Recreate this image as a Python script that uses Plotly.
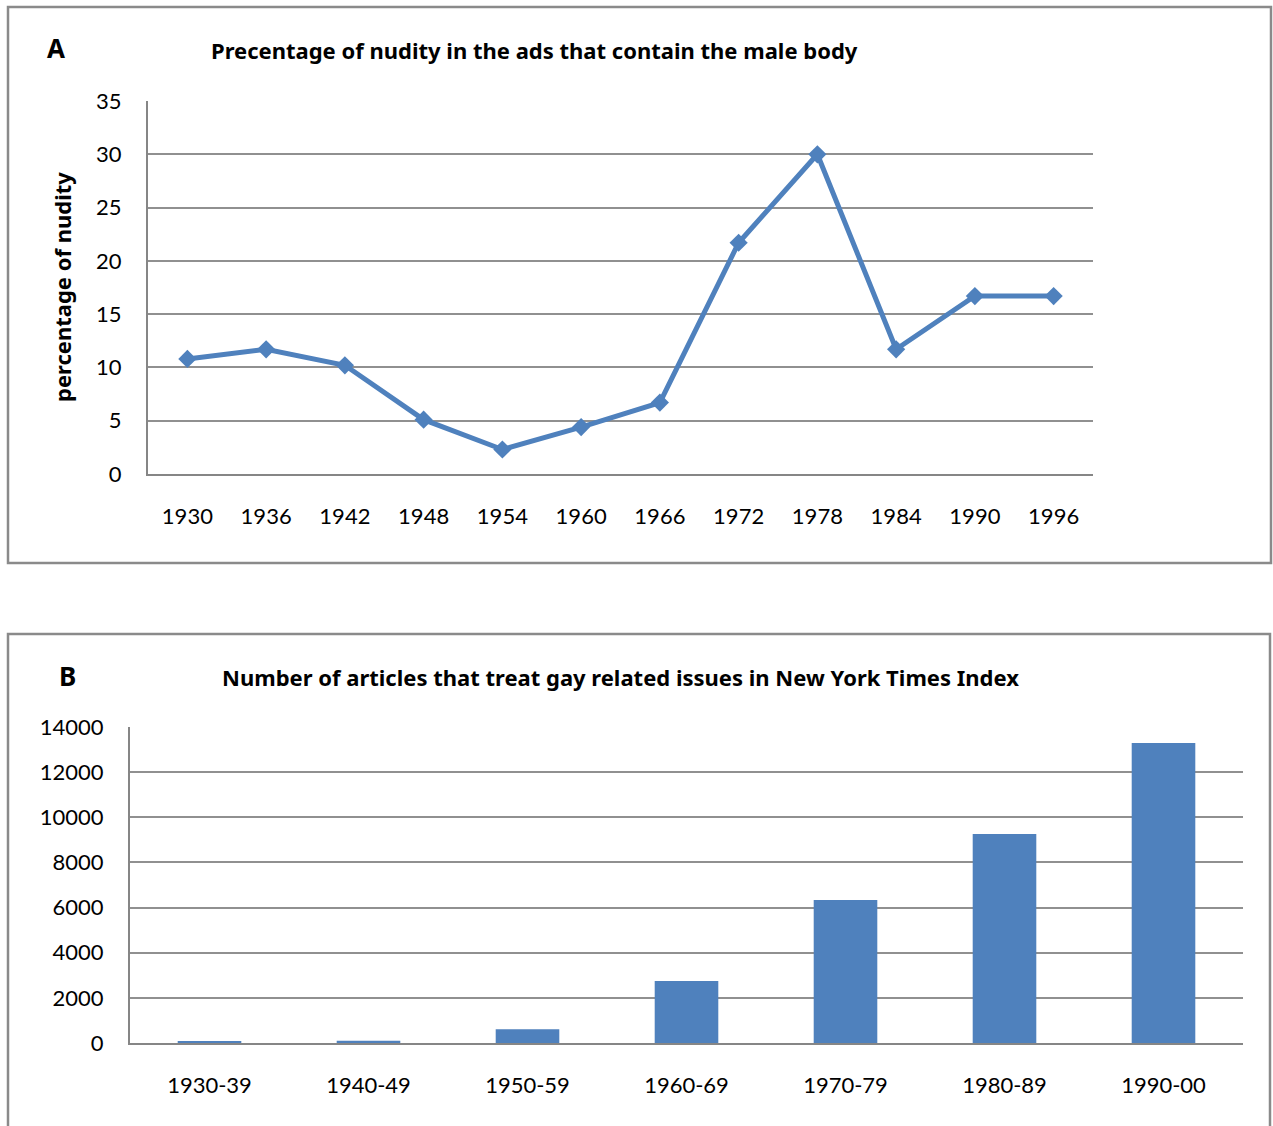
import plotly.graph_objects as go

# Panel A: share of ads with the male body that show nudity
years = ["1930", "1936", "1942", "1948", "1954", "1960",
         "1966", "1972", "1978", "1984", "1990", "1996"]
nudity_pct = [10.8, 11.7, 10.2, 5.1, 2.3, 4.4, 6.7, 21.7, 30.0, 11.7, 16.7, 16.7]

# Panel B: gay-related articles in the New York Times Index
decades = ["1930-39", "1940-49", "1950-59", "1960-69", "1970-79", "1980-89", "1990-00"]
articles = [60, 100, 610, 2750, 6340, 9260, 13290]

W, H = 1273, 1126
TICK_FONT = "Lato"
HEAD_FONT = "Noto Sans"
BLUE = "#4F81BD"
GRID = "#909090"
AXIS = "#868686"


def px_x(v):
    return v / W


def px_y(v):
    return 1 - v / H


fig = go.Figure()

fig.add_trace(go.Scatter(
    x=years, y=nudity_pct, mode="lines+markers",
    line=dict(color=BLUE, width=5),
    marker=dict(symbol="diamond", size=14, color=BLUE),
    xaxis="x", yaxis="y", showlegend=False,
))

fig.add_trace(go.Bar(
    x=decades, y=articles, marker=dict(color=BLUE, line=dict(width=0)),
    xaxis="x2", yaxis="y2", showlegend=False,
))

tick_font = dict(family=TICK_FONT, size=22, color="#000000")

common_x = dict(type="category", showgrid=False, showline=True, linecolor=AXIS,
                linewidth=2, ticks="", tickfont=tick_font, ticklabelstandoff=22,
                automargin=False, fixedrange=True)
common_y = dict(showgrid=True, gridcolor=GRID, gridwidth=2, showline=True,
                linecolor=AXIS, linewidth=2, ticks="", tickfont=tick_font,
                ticklabelstandoff=20, zeroline=False, automargin=False,
                tickformat="d", fixedrange=True)

fig.update_layout(
    width=W, height=H,
    margin=dict(l=0, r=0, t=0, b=0, pad=0, autoexpand=False),
    paper_bgcolor="white", plot_bgcolor="white",
    bargap=0.6,
    xaxis=dict(common_x, domain=[px_x(148), px_x(1093)], anchor="y",
               range=[-0.5, len(years) - 0.5]),
    yaxis=dict(common_y, domain=[px_y(474), px_y(101)], anchor="x",
               range=[0, 35], dtick=5),
    xaxis2=dict(common_x, domain=[px_x(130), px_x(1243)], anchor="y2",
                range=[-0.5, len(decades) - 0.5]),
    yaxis2=dict(common_y, domain=[px_y(1043), px_y(727)], anchor="x2",
                range=[0, 14000], dtick=2000),
)

# panel frames
fig.add_shape(type="rect", xref="paper", yref="paper",
              x0=px_x(8), x1=px_x(1271), y0=px_y(563), y1=px_y(7),
              line=dict(color="#8A8A8A", width=2.5), fillcolor="rgba(0,0,0,0)", layer="below")
fig.add_shape(type="rect", xref="paper", yref="paper",
              x0=px_x(8), x1=px_x(1270), y0=px_y(1140), y1=px_y(634),
              line=dict(color="#8A8A8A", width=2.5), fillcolor="rgba(0,0,0,0)", layer="below")

head = dict(family=HEAD_FONT, size=22, color="#000000")
letter = dict(family=HEAD_FONT, size=26, color="#000000")
texts = [
    ("<b>A</b>", 45, 48, letter, "left", 0),
    ("<b>Precentage of nudity in the ads that contain the male body</b>", 209, 50, head, "left", 0),
    ("<b>percentage of nudity</b>", 62, 287, head, "center", -90),
    ("<b>B</b>", 57, 676, letter, "left", 0),
    ("<b>Number of articles that treat gay related issues in New York Times Index</b>", 220, 677, head, "left", 0),
]
for t, x, y, f, anchor, ang in texts:
    fig.add_annotation(text=t, xref="paper", yref="paper", x=px_x(x), y=px_y(y),
                       xanchor=anchor, yanchor="middle", showarrow=False,
                       font=f, textangle=ang)

fig.write_html("out.html")
